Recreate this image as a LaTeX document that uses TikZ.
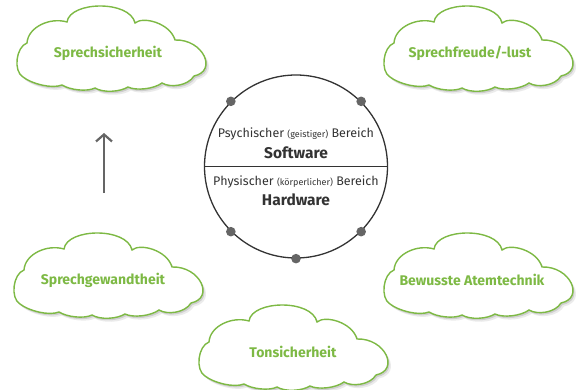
\documentclass[tikz,border=0pt]{standalone}
\usepackage{fontspec}
\setmainfont{Fira Sans}
\usetikzlibrary{arrows.meta}
\definecolor{blattgruen}{HTML}{7DB944}
\definecolor{tinte}{HTML}{333333}
\definecolor{grauton}{HTML}{656565}
% Wolkenumriss (y nach unten, um die Textmitte)
\newcommand{\wolkenpfad}{(-85,24)
  .. controls (-95,18) and (-92,-6) .. (-81,-10)
  .. controls (-80,-26) and (-58,-36) .. (-41,-31)
  .. controls (-38,-52) and (22,-53) .. (27,-30)
  .. controls (35,-37) and (62,-30) .. (67,-13)
  .. controls (95,-14) and (110,18) .. (86,23)
  .. controls (80,33) and (62,35) .. (54,30)
  .. controls (46,36) and (28,38) .. (20,34)
  .. controls (12,39) and (-5,40) .. (-13,35)
  .. controls (-21,39) and (-38,37) .. (-46,32)
  .. controls (-56,36) and (-76,31) .. cycle}
\tikzset{
  pics/wolke/.style={code={
    \fill[black, opacity=0.08, shift={(3,3.5)}] \wolkenpfad;
    \fill[black, opacity=0.12, shift={(1.5,2)}] \wolkenpfad;
    \draw[wolkenrand] \wolkenpfad;
  }},
  wolkenrand/.style={draw=blattgruen, line width=1.4pt, fill=white},
  wolkentext/.style={text=blattgruen, font=\bfseries\fontsize{14}{16}\selectfont},
}
\begin{document}
\begin{tikzpicture}[x=1pt, y=-1pt,
  mitte/.style={text=tinte, font=\fontsize{12.5}{14}\selectfont},
  fett/.style={text=tinte, font=\bfseries\fontsize{15.5}{17}\selectfont}]
\useasboundingbox (0, 0) rectangle (583, 390);
% Kreis
\node[circle, draw=tinte, line width=1.3pt, minimum size=183pt, inner sep=0pt] (kreis) at (296, 166.5) {};
\draw[tinte, line width=0.8pt] (kreis.west) -- (kreis.east);
\foreach \w in {45, 135, 225, 270, 315}
  \fill[grauton] (kreis.\w) circle (4.8);
% Text
\node[mitte] (psych) at (296, 134) {Psychischer {\fontsize{9}{10}\selectfont(geistiger)} Bereich};
\node[fett] (soft) at (296, 153) {Software};
\node[mitte] (phys) at (296, 182) {Physischer {\fontsize{9}{10}\selectfont(körperlicher)} Bereich};
\node[fett] (hard) at (296, 200) {Hardware};
% Wolken
\pic at (108, 53) {wolke};
\node[wolkentext] (sicher) at (108, 53) {Sprechsicherheit};
\pic at (475, 53) {wolke};
\node[wolkentext] (freude) at (470, 53) {Sprechfreude/-lust};
\pic at (105, 280) {wolke};
\node[wolkentext] (gewandt) at (103, 280) {Sprechgewandtheit};
\pic at (475, 280) {wolke};
\node[wolkentext] (atem) at (472, 280) {Bewusste Atemtechnik};
\pic at (290, 352) {wolke};
\node[wolkentext] (ton) at (293, 352) {Tonsicherheit};
% Pfeil
\coordinate (p0) at (104, 193);
\coordinate (p1) at (104, 133);
\draw[grauton, line width=2.2pt, -{Straight Barb[length=7pt, width=16pt]}] (p0) -- (p1);
\end{tikzpicture}
\end{document}
